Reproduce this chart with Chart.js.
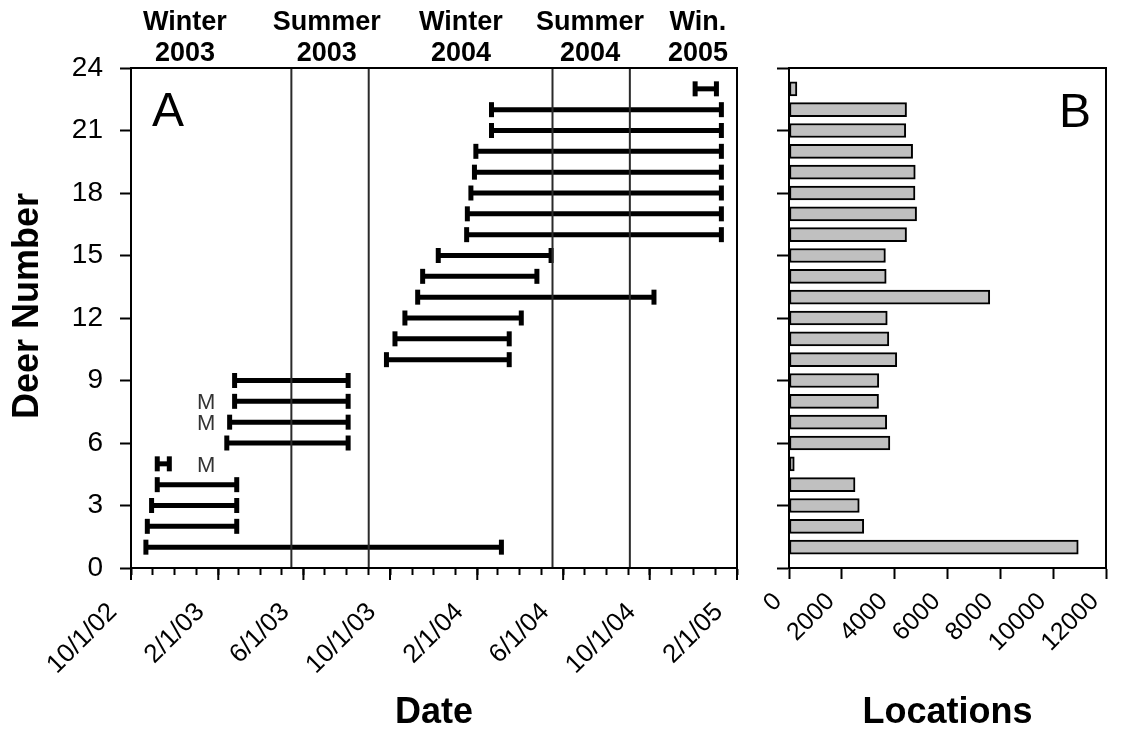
<!DOCTYPE html>
<html><head><meta charset="utf-8">
<script src="https://cdn.jsdelivr.net/npm/chart.js@4.4.0/dist/chart.umd.min.js"></script>
<style>
html,body{margin:0;padding:0;background:#fff;}
#wrap{position:relative;width:1123px;height:749px;background:#fff;}
#ca{position:absolute;left:0;top:0;}
#cb{position:absolute;left:760px;top:0;}
</style></head><body>
<div id="wrap"><canvas id="ca" width="760" height="749"></canvas><canvas id="cb" width="363" height="749"></canvas></div>
<script>
// ---- data ----
const deerNumbers = [1,2,3,4,5,6,7,8,9,10,11,12,13,14,15,16,17,18,19,20,21,22,23];
const startDates = ['2002-10-22','2002-10-24','2002-10-30','2002-11-07','2002-11-07','2003-02-13','2003-02-17','2003-02-24','2003-02-24','2003-09-26','2003-10-08','2003-10-22','2003-11-09','2003-11-16','2003-12-08','2004-01-17','2004-01-18','2004-01-23','2004-01-28','2004-01-30','2004-02-21','2004-02-21','2004-12-04'];
const endDates = ['2004-03-06','2003-02-27','2003-02-27','2003-02-27','2002-11-24','2003-08-03','2003-08-03','2003-08-03','2003-08-03','2004-03-17','2004-03-17','2004-04-03','2004-10-07','2004-04-25','2004-05-15','2005-01-10','2005-01-10','2005-01-10','2005-01-10','2005-01-10','2005-01-10','2005-01-10','2005-01-03'];
const locations = [10950,2830,2660,2500,200,3820,3700,3390,3400,4080,3780,3720,7600,3680,3650,4450,4830,4770,4780,4680,4420,4450,300];
const mortalityDeer = [5,7,8];
const mortalityLabelDate = '2003-01-15';
const seasonBoundaries = ['2003-05-15','2003-09-01','2004-05-17','2004-09-03'];
const seasonLabels = [['Winter','2003'],['Summer','2003'],['Winter','2004'],['Summer','2004'],['Win.','2005']];
const seasonLabelDates = ['2002-12-16','2003-07-04','2004-01-09','2004-07-09','2004-12-08'];
const dateTickLabels = ['10/1/02','2/1/03','6/1/03','10/1/03','2/1/04','6/1/04','10/1/04','2/1/05'];
const axisStart = '2002-10-01', axisEnd = '2005-02-01';
const locationMax = 12000, locationStep = 2000;
const deerMax = 24, deerStep = 3;

// ---- helpers ----
const FONT = "'Liberation Sans', Arial, sans-serif";
Chart.defaults.font.family = FONT;
Chart.defaults.color = '#000';
const BASE = Date.UTC(2002,9,1);
const dayOf = s => { const [y,m,d] = s.split('-').map(Number); return (Date.UTC(y,m-1,d) - BASE)/86400000; };
const monthTicks = [];
for (let k = 0; k <= 28; k++) { const y = 2002 + Math.floor((9+k)/12); const m = (9+k)%12; monthTicks.push((Date.UTC(y,m,1)-BASE)/86400000); }

// ---- panel A ----
const dsA = [];
seasonBoundaries.forEach(d => dsA.push({
  data:[{x:dayOf(d),y:0},{x:dayOf(d),y:deerMax}], showLine:true,
  borderColor:'#2a2a2a', borderWidth:2, pointRadius:0, pointHoverRadius:0
}));
deerNumbers.forEach((n,i) => dsA.push({
  data:[{x:dayOf(startDates[i]),y:n},{x:dayOf(endDates[i]),y:n}], showLine:true,
  borderColor:'#000', borderWidth:5, pointStyle:'line', pointRotation:90,
  pointRadius:7.5, pointHoverRadius:7.5, pointBorderWidth:5, pointBorderColor:'#000', pointBackgroundColor:'#000'
}));

const panelAPlugin = {
  id:'panelA',
  afterDraw(chart){
    const {ctx, chartArea:a, scales:{x, y}} = chart;
    ctx.save();
    ctx.strokeStyle = '#000'; ctx.lineWidth = 2;
    ctx.strokeRect(a.left, a.top, a.right-a.left, a.bottom-a.top);
    x.ticks.forEach((t,i) => { if (i%4===0) { const px = x.getPixelForValue(t.value); ctx.beginPath(); ctx.moveTo(px,a.bottom); ctx.lineTo(px,a.bottom+12); ctx.stroke(); } });
    ctx.fillStyle = '#000'; ctx.textAlign='center'; ctx.textBaseline='middle';
    ctx.font = "48px " + FONT;
    ctx.fillText('A', a.left+37, a.top+45);
    ctx.font = "bold 27px " + FONT;
    seasonLabels.forEach((lab,i) => {
      const px = x.getPixelForValue(dayOf(seasonLabelDates[i]));
      ctx.fillText(lab[0], px, a.top-45);
      ctx.fillText(lab[1], px, a.top-14);
    });
    // y-axis title
    ctx.save();
    ctx.translate(28, (a.top + a.bottom)/2 - 12);
    ctx.rotate(-Math.PI/2);
    ctx.font = "bold 36px " + FONT;
    ctx.fillText('Deer Number', 0, 0);
    ctx.restore();
    ctx.font = "22px " + FONT; ctx.fillStyle = '#333';
    mortalityDeer.forEach(n => {
      ctx.fillText('M', x.getPixelForValue(dayOf(mortalityLabelDate)), y.getPixelForValue(n)+2);
    });
    ctx.restore();
  }
};

new Chart(document.getElementById('ca'), {
  type:'scatter',
  data:{datasets:dsA},
  options:{
    responsive:false, devicePixelRatio:1, animation:false,
    layout:{padding:{top:68,right:23,left:0,bottom:0}},
    plugins:{legend:{display:false}, tooltip:{enabled:false}},
    scales:{
      x:{
        type:'linear', min:dayOf(axisStart), max:dayOf(axisEnd),
        afterBuildTicks:s => { s.ticks = monthTicks.map(v => ({value:v})); },
        afterFit:s => { s.height = 181; s.paddingLeft = 0; s.paddingRight = 0; },
        ticks:{autoSkip:false, maxRotation:45, minRotation:45, padding:22, labelOffset:-18, font:{size:26},
          callback:(v,i) => i%4===0 ? dateTickLabels[i/4] : ''},
        grid:{drawOnChartArea:false, tickLength:7, tickColor:'#000', tickWidth:2},
        border:{display:true, color:'#000', width:2},
        title:{display:true, text:'Date', font:{size:36, weight:'bold'}, padding:{top:0,bottom:14}}
      },
      y:{
        type:'linear', min:0, max:deerMax,
        afterFit:s => { s.width = 131; s.paddingTop = 0; s.paddingBottom = 0; },
        ticks:{stepSize:deerStep, padding:17, font:{size:28}},
        grid:{drawOnChartArea:false, tickLength:11, tickColor:'#000', tickWidth:2},
        border:{display:true, color:'#000', width:2},
        title:{display:false}
      }
    }
  },
  plugins:[panelAPlugin]
});

// ---- panel B ----
const panelBPlugin = {
  id:'panelB',
  afterDraw(chart){
    const {ctx, chartArea:a} = chart;
    ctx.save();
    ctx.strokeStyle = '#000'; ctx.lineWidth = 2;
    ctx.strokeRect(a.left, a.top, a.right-a.left, a.bottom-a.top);
    ctx.fillStyle = '#000'; ctx.textAlign='center'; ctx.textBaseline='middle';
    ctx.font = "48px " + FONT;
    ctx.fillText('B', a.right-31, a.top+46);
    ctx.restore();
  }
};

new Chart(document.getElementById('cb'), {
  type:'bar',
  data:{datasets:[{
    data:deerNumbers.map((n,i) => ({x:locations[i], y:n})),
    backgroundColor:'#c0c0c0', borderColor:'#000', borderWidth:2, borderSkipped:false, barThickness:14
  }]},
  options:{
    indexAxis:'y',
    responsive:false, devicePixelRatio:1, animation:false,
    layout:{padding:{top:68,right:17,left:0,bottom:0}},
    plugins:{legend:{display:false}, tooltip:{enabled:false}},
    scales:{
      x:{
        type:'linear', min:0, max:locationMax,
        afterFit:s => { s.height = 181; s.paddingLeft = 0; s.paddingRight = 0; },
        ticks:{stepSize:locationStep, autoSkip:false, maxRotation:45, minRotation:45, padding:8, labelOffset:-11, font:{size:25},
          callback:v => String(v)},
        grid:{drawOnChartArea:false, tickLength:11, tickColor:'#000', tickWidth:2},
        border:{display:true, color:'#000', width:2},
        title:{display:true, text:'Locations', font:{size:36, weight:'bold'}, padding:{top:0,bottom:14}}
      },
      y:{
        type:'linear', min:0, max:deerMax, offset:false,
        afterFit:s => { s.width = 29; s.paddingTop = 0; s.paddingBottom = 0; },
        ticks:{stepSize:deerStep, display:false},
        grid:{offset:false, drawOnChartArea:false, tickLength:12, tickColor:'#000', tickWidth:2},
        border:{display:true, color:'#000', width:2}
      }
    }
  },
  plugins:[panelBPlugin]
});
</script>
</body></html>
